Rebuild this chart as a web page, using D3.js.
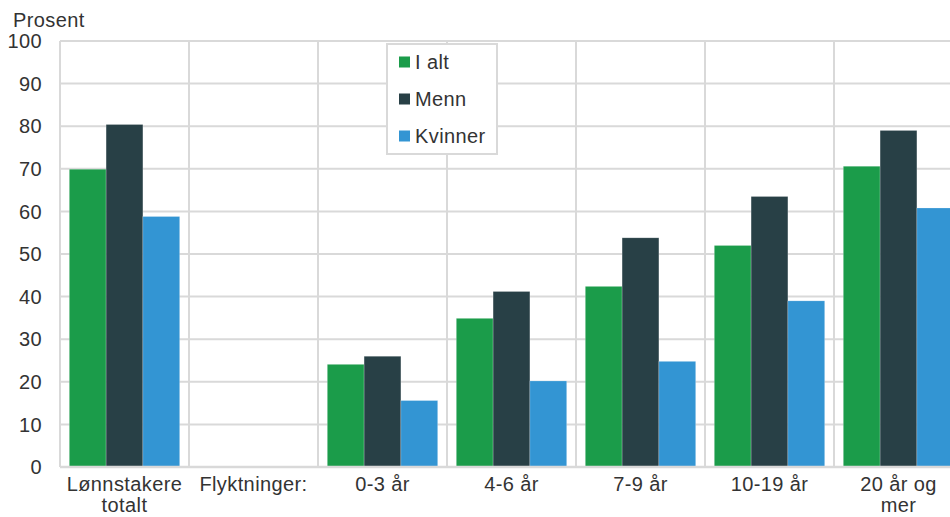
<!DOCTYPE html>
<html>
<head>
<meta charset="utf-8">
<script src="https://cdn.jsdelivr.net/npm/d3@7"></script>
<style>
  body { margin: 0; background: #fff; }
  svg { display: block; font-family: "Liberation Sans", Arial, sans-serif; }
  svg text { font-size: 20px; letter-spacing: 0.4px; }
</style>
</head>
<body>
<svg id="chart" width="950" height="517"></svg>
<script>
// ------- data -------
var categories = [["Lønnstakere", "totalt"], ["Flyktninger:"], ["0-3 år"], ["4-6 år"], ["7-9 år"], ["10-19 år"], ["20 år og", "mer"]];
var seriesNames = ["I alt", "Menn", "Kvinner"];
var seriesColors = ["#1b9c4a", "#284046", "#3395d3"];
var iAlt    = [69.9, null, 24.1, 34.9, 42.4, 52.0, 70.6];
var menn    = [80.4, null, 26.0, 41.2, 53.8, 63.5, 79.0];
var kvinner = [58.8, null, 15.6, 20.2, 24.8, 39.0, 60.8];
var yTicks  = [0, 10, 20, 30, 40, 50, 60, 70, 80, 90, 100];

var values = [iAlt, menn, kvinner];
var textColor = "#333";
var gridColor = "#d9d9d9";

var svg = d3.select("#chart");
var plotLeft = 60, plotTop = 41, plotBottom = 467;
var catWidth = 129;

var x = d3.scaleBand()
    .domain(d3.range(categories.length))
    .range([plotLeft, plotLeft + catWidth * categories.length]);

var xs = d3.scaleBand()
    .domain(d3.range(seriesNames.length))
    .range([9.3, catWidth - 9.3]);

var y = d3.scaleLinear().domain([0, 100]).range([plotBottom, plotTop]);

// horizontal grid
svg.append("g")
    .selectAll("line")
    .data(yTicks)
    .enter()
    .append("line")
    .attr("x1", plotLeft)
    .attr("x2", 950)
    .attr("y1", function (d) { return y(d); })
    .attr("y2", function (d) { return y(d); })
    .attr("stroke", gridColor)
    .attr("stroke-width", 2);

// vertical grid
svg.append("g")
    .selectAll("line")
    .data(d3.range(categories.length + 1))
    .enter()
    .append("line")
    .attr("x1", function (d) { return plotLeft + d * catWidth; })
    .attr("x2", function (d) { return plotLeft + d * catWidth; })
    .attr("y1", plotTop)
    .attr("y2", plotBottom)
    .attr("stroke", gridColor)
    .attr("stroke-width", 2);

// bars
var bars = [];
values.forEach(function (arr, s) {
    arr.forEach(function (v, c) {
        if (v != null) bars.push({ s: s, c: c, v: v });
    });
});

svg.append("g")
    .selectAll("rect")
    .data(bars)
    .enter()
    .append("rect")
    .attr("x", function (d) { return x(d.c) + xs(d.s); })
    .attr("width", xs.bandwidth())
    .attr("y", function (d) { return y(d.v); })
    .attr("height", function (d) { return y(0) - y(d.v); })
    .attr("fill", function (d) { return seriesColors[d.s]; })
    .attr("stroke", "#ffffff")
    .attr("stroke-opacity", 0.35)
    .attr("stroke-width", 0.6);

// zero line
svg.append("line")
    .attr("x1", plotLeft)
    .attr("x2", 950)
    .attr("y1", y(0))
    .attr("y2", y(0))
    .attr("stroke", gridColor)
    .attr("stroke-width", 2.5);

// y tick labels
svg.append("g")
    .selectAll("text")
    .data(yTicks)
    .enter()
    .append("text")
    .attr("x", 42)
    .attr("y", function (d) { return y(d); })
    .attr("dy", "0.36em")
    .attr("text-anchor", "end")
    .attr("fill", textColor)
    .text(function (d) { return d; });

svg.append("text")
    .attr("x", 13)
    .attr("y", 27)
    .attr("fill", textColor)
    .text("Prosent");

// x labels
var xl = svg.append("g")
    .selectAll("text")
    .data(categories)
    .enter()
    .append("text")
    .attr("text-anchor", "middle")
    .attr("fill", textColor);

xl.selectAll("tspan")
    .data(function (d, i) { return d.map(function (t) { return { t: t, i: i }; }); })
    .enter()
    .append("tspan")
    .attr("x", function (d) { return x(d.i) + catWidth / 2; })
    .attr("y", function (d, j) { return 491 + j * 21; })
    .text(function (d) { return d.t; });

// legend
var legend = svg.append("g").attr("transform", "translate(387,44)");
legend.append("rect")
    .attr("width", 110)
    .attr("height", 110)
    .attr("fill", "#fff")
    .attr("stroke", gridColor)
    .attr("stroke-width", 2);

var items = legend.selectAll(".item")
    .data(seriesNames)
    .enter()
    .append("g")
    .attr("class", "item")
    .attr("transform", function (d, i) { return "translate(0," + (18 + i * 37) + ")"; });

items.append("rect")
    .attr("x", 12)
    .attr("y", -5.5)
    .attr("width", 11)
    .attr("height", 11)
    .attr("fill", function (d, i) { return seriesColors[i]; });

items.append("text")
    .attr("x", 28)
    .attr("dy", "0.36em")
    .attr("fill", textColor)
    .text(function (d) { return d; });
</script>
</body>
</html>
